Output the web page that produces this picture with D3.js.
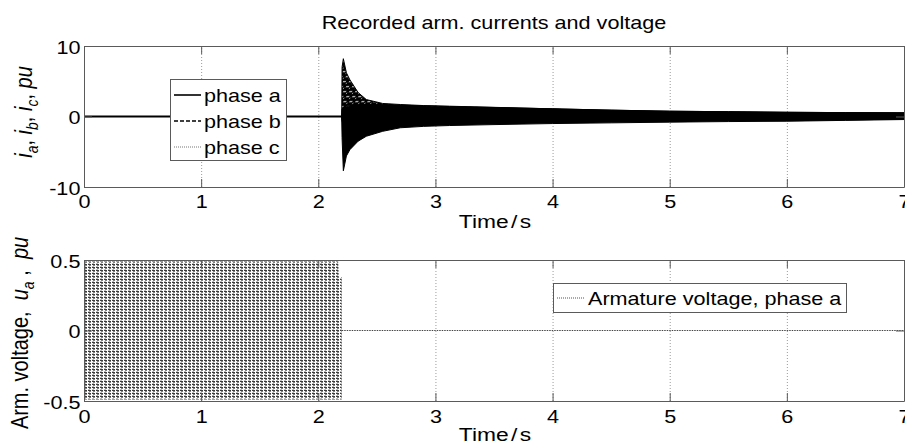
<!DOCTYPE html>
<html>
<head>
<meta charset="utf-8">
<script src="https://cdn.jsdelivr.net/npm/d3@7"></script>
<style>
  body { margin: 0; background: #fff; }
  svg { display: block; }
  text { font-family: "Liberation Sans", Arial, Helvetica, sans-serif; fill: #000; }
</style>
</head>
<body>
<svg id="chart" width="905" height="444"></svg>
<script>
// ---- data -------------------------------------------------------------
const xTicks = [0, 1, 2, 3, 4, 5, 6, 7];
const currentTicks = [-10, 0, 10];
const voltageTicks = [-0.5, 0, 0.5];

// currents before the fault (all phases sit at zero)
const tPre = [0, 2.2];
const iPre = [0, 0];

// current envelopes after the fault (pu)
const tFault = [2.2, 2.203, 2.214, 2.24, 2.27, 2.34, 2.41, 2.55, 2.70, 2.90, 3.12, 3.5, 4.0, 4.5, 5.0, 5.5, 6.0, 6.5, 7.0];
const phaseAUpper = [0.2, 1.0, 1.2, 1.4, 1.5, 1.6, 1.7, 1.6, 1.55, 1.5, 1.42, 1.28, 1.09, 0.9, 0.75, 0.68, 0.6, 0.55, 0.52];
const phaseALower = [-0.2, -3.0, -7.7, -5.6, -4.7, -3.5, -2.8, -2.1, -1.6, -1.4, -1.28, -1.15, -1.0, -0.9, -0.8, -0.72, -0.67, -0.55, -0.43];
const phaseBUpper = [0.2, 7.0, 8.2, 6.2, 5.2, 3.4, 2.4, 1.85, 1.7, 1.55, 1.46, 1.3, 1.09, 0.9, 0.75, 0.68, 0.6, 0.55, 0.52];
const phaseBLower = [-0.2, -0.6, -1.0, -1.0, -1.0, -1.0, -1.0, -1.0, -1.0, -1.0, -1.0, -0.9, -0.8, -0.7, -0.6, -0.55, -0.5, -0.45, -0.4];
const phaseCUpper = [0.1, 0.3, 0.5, 0.5, 0.5, 0.5, 0.5, 0.5, 0.5, 0.5, 0.5, 0.45, 0.4, 0.35, 0.3, 0.3, 0.25, 0.25, 0.2];
const phaseCLower = [-0.1, -0.8, -1.2, -1.0, -0.9, -0.8, -0.8, -0.8, -0.8, -0.8, -0.8, -0.7, -0.6, -0.55, -0.5, -0.45, -0.4, -0.35, -0.3];

// armature voltage envelope while connected, then zero
const tVolt = [0, 2.17, 2.175, 2.2];
const voltUpper = [0.49, 0.49, 0.38, 0.38];
const voltLower = [-0.49, -0.49, -0.49, -0.49];
const tVoltOff = [2.2, 7];
const voltOff = [0, 0];

const legendTop = ["phase a", "phase b", "phase c"];
const legendBottom = ["Armature voltage, phase a"];

// ---- setup ------------------------------------------------------------
const SX = 1.2;       // horizontal text stretch
const FS = 18;        // tick / legend font size
const svg = d3.select("#chart");
const defs = svg.append("defs");

const x = d3.scaleLinear().domain([0, 7]).range([84, 904]);
const yI = d3.scaleLinear().domain([-10, 10]).range([187, 46]);
const yU = d3.scaleLinear().domain([-0.5, 0.5]).range([401, 260]);

// fill textures
const pb = defs.append("pattern").attr("id", "phaseBFill")
  .attr("patternUnits", "userSpaceOnUse").attr("width", 6).attr("height", 5)
  .attr("patternTransform", "skewX(-30)");
pb.append("rect").attr("width", 6).attr("height", 5).attr("fill", "#000");
pb.append("rect").attr("x", 0).attr("y", 1).attr("width", 3).attr("height", 1).attr("fill", "#fff");
pb.append("rect").attr("x", 4).attr("y", 3).attr("width", 1).attr("height", 1).attr("fill", "#ddd");

const pv = defs.append("pattern").attr("id", "voltFill")
  .attr("patternUnits", "userSpaceOnUse").attr("width", 4).attr("height", 3);
pv.append("rect").attr("width", 4).attr("height", 3).attr("fill", "#fff");
pv.append("rect").attr("x", 0).attr("y", 0).attr("width", 3).attr("height", 1).attr("fill", "#3a3a3a");
pv.append("rect").attr("x", 1).attr("y", 1).attr("width", 2).attr("height", 1).attr("fill", "#808080");
pv.append("rect").attr("x", 0).attr("y", 2).attr("width", 2).attr("height", 1).attr("fill", "#c0c0c0");

function addClip(id, y) {
  defs.append("clipPath").attr("id", id).append("rect")
    .attr("x", x.range()[0]).attr("y", y.range()[1])
    .attr("width", x.range()[1] - x.range()[0])
    .attr("height", y.range()[0] - y.range()[1]);
}
addClip("clipTop", yI);
addClip("clipBot", yU);

function stretchedText(parent, px, py, str, anchor, size) {
  return parent.append("g").attr("transform", `translate(${px},${py}) scale(${SX},1)`)
    .append("text").attr("text-anchor", anchor).style("font-size", size + "px").text(str);
}

function grid(y) {
  const h = y.range()[0] - y.range()[1];
  const w = x.range()[1] - x.range()[0];
  const gx = svg.append("g").attr("transform", `translate(0,${y.range()[0]})`)
    .call(d3.axisBottom(x).tickValues(xTicks.slice(1, -1)).tickSize(-h).tickFormat(""));
  const gy = svg.append("g").attr("transform", `translate(${x.range()[0]},0)`)
    .call(d3.axisLeft(y).tickValues(y.domain()).tickSize(-w).tickFormat(""));
  [gx, gy].forEach(g => {
    g.select(".domain").remove();
    g.selectAll("line").attr("stroke", "#9a9a9a").attr("stroke-width", 1)
      .attr("stroke-dasharray", "1,2");
  });
}

function frame(y, yTickVals, labelBaseline) {
  const top = y.range()[1], bottom = y.range()[0];
  const styleAxis = g => {
    g.attr("font-size", null).attr("font-family", null);
    g.selectAll("path, line").attr("stroke", "#5a5a5a").attr("stroke-width", 1);
  };
  const gb = svg.append("g").attr("transform", `translate(0,${bottom})`)
    .call(d3.axisBottom(x).tickValues(xTicks).tickSizeInner(-8).tickSizeOuter(0)
      .tickPadding(0).tickFormat(d => String(d)));
  styleAxis(gb);
  gb.selectAll("text").attr("y", labelBaseline).attr("dy", null)
    .attr("transform", `scale(${SX},1)`).style("font-size", FS + "px").attr("fill", "#000");

  const gt = svg.append("g").attr("transform", `translate(0,${top})`)
    .call(d3.axisTop(x).tickValues(xTicks).tickSizeInner(-8).tickSizeOuter(0).tickFormat(""));
  styleAxis(gt);

  const gl = svg.append("g").attr("transform", `translate(${x.range()[0]},0)`)
    .call(d3.axisLeft(y).tickValues(yTickVals).tickSizeInner(-8).tickSizeOuter(0)
      .tickPadding(0).tickFormat(d => String(d)));
  styleAxis(gl);
  gl.selectAll("text").attr("x", -3).attr("dy", "0.4em")
    .attr("transform", `scale(${SX},1)`).style("font-size", FS + "px").attr("fill", "#000");

  const gr = svg.append("g").attr("transform", `translate(${x.range()[1]},0)`)
    .call(d3.axisRight(y).tickValues(yTickVals).tickSizeInner(-8).tickSizeOuter(0).tickFormat(""));
  styleAxis(gr);
}

// ---- top panel: armature currents -------------------------------------
grid(yI);
const topData = svg.append("g").attr("clip-path", "url(#clipTop)");
const bandI = (up, lo) => d3.area().x((d, i) => x(tFault[i])).y0((d, i) => yI(lo[i])).y1((d, i) => yI(up[i]));

topData.append("path").datum(tFault).attr("d", bandI(phaseCUpper, phaseCLower))
  .attr("fill", "#888").attr("stroke", "#888").attr("stroke-dasharray", "1,1");
topData.append("path").datum(tFault).attr("d", bandI(phaseBUpper, phaseBLower))
  .attr("fill", "url(#phaseBFill)").attr("stroke", "#000").attr("stroke-width", 1);
topData.append("path").datum(tFault).attr("d", bandI(phaseAUpper, phaseALower))
  .attr("fill", "#000").attr("stroke", "#000").attr("stroke-width", 1);
topData.append("path").datum(tPre)
  .attr("d", d3.line().x((d, i) => x(tPre[i])).y((d, i) => yI(iPre[i])))
  .attr("fill", "none").attr("stroke", "#000").attr("stroke-width", 2.2);

frame(yI, currentTicks, 21);

// ---- bottom panel: armature voltage ------------------------------------
grid(yU);
const botData = svg.append("g").attr("clip-path", "url(#clipBot)");
botData.append("path").datum(tVolt)
  .attr("d", d3.area().x((d, i) => x(tVolt[i])).y0((d, i) => yU(voltLower[i])).y1((d, i) => yU(voltUpper[i])))
  .attr("fill", "url(#voltFill)");
botData.append("path").datum(tVoltOff)
  .attr("d", d3.line().x((d, i) => x(tVoltOff[i])).y((d, i) => yU(voltOff[i])))
  .attr("fill", "none").attr("stroke", "#444").attr("stroke-width", 1.2).attr("stroke-dasharray", "1.5,1");

frame(yU, voltageTicks, 22);

// ---- legends ------------------------------------------------------------
const lt = svg.append("g");
lt.append("rect").attr("x", 170.5).attr("y", 79.5).attr("width", 116).attr("height", 81)
  .attr("fill", "#fff").attr("stroke", "#5a5a5a");
const sampleStyles = [
  { stroke: "#000", width: 1.6, dash: null },
  { stroke: "#000", width: 1.4, dash: "4,2" },
  { stroke: "#777", width: 1.2, dash: "1,1" }
];
legendTop.forEach((name, i) => {
  const cy = 95 + i * 26;
  lt.append("line").attr("x1", 174).attr("x2", 201).attr("y1", cy).attr("y2", cy)
    .attr("stroke", sampleStyles[i].stroke).attr("stroke-width", sampleStyles[i].width)
    .attr("stroke-dasharray", sampleStyles[i].dash);
  stretchedText(lt, 204, cy + 6.5, name, "start", FS);
});

const lb = svg.append("g");
lb.append("rect").attr("x", 553.5).attr("y", 283.5).attr("width", 293).attr("height", 29)
  .attr("fill", "#fff").attr("stroke", "#5a5a5a");
lb.append("line").attr("x1", 557).attr("x2", 584).attr("y1", 298).attr("y2", 298)
  .attr("stroke", "#555").attr("stroke-width", 1.2).attr("stroke-dasharray", "1,1");
stretchedText(lb, 588, 304.5, legendBottom[0], "start", FS);

// ---- titles and axis labels ------------------------------------------------
stretchedText(svg, 494, 29, "Recorded arm. currents and voltage", "middle", FS);

function timeLabel(baseline) {
  const t = svg.append("g").attr("transform", `translate(495,${baseline}) scale(${SX},1)`)
    .append("text").attr("text-anchor", "middle").style("font-size", "19px");
  t.append("tspan").text("Time");
  t.append("tspan").attr("dx", 2).text("/");
  t.append("tspan").attr("dx", 2).text("s");
}
timeLabel(228);
timeLabel(441);

// current label: i_a, i_b, i_c, pu
const yl1 = svg.append("g").attr("transform", "translate(32,112) rotate(-90) scale(1,1.2)")
  .append("text").attr("text-anchor", "middle").style("font-size", "20px");
[["i", "a"], ["i", "b"], ["i", "c"]].forEach(([v, s]) => {
  yl1.append("tspan").style("font-style", "italic").text(v);
  yl1.append("tspan").style("font-style", "italic").style("font-size", "14px").attr("dy", 5).text(s);
  yl1.append("tspan").attr("dy", -5).text(", ");
});
yl1.append("tspan").style("font-style", "italic").text("pu");

// voltage label: Arm. voltage, u_a , pu
const yl2 = svg.append("g").attr("transform", "translate(28,333) rotate(-90) scale(1,1.2)")
  .append("text").attr("text-anchor", "middle").style("font-size", "20px").attr("xml:space", "preserve");
yl2.append("tspan").text("Arm. voltage,  ");
yl2.append("tspan").style("font-style", "italic").text("u");
yl2.append("tspan").style("font-style", "italic").style("font-size", "14px").attr("dy", 5).text("a");
yl2.append("tspan").attr("dy", -5).text(" ,  ");
yl2.append("tspan").style("font-style", "italic").text("pu");
</script>
</body>
</html>
